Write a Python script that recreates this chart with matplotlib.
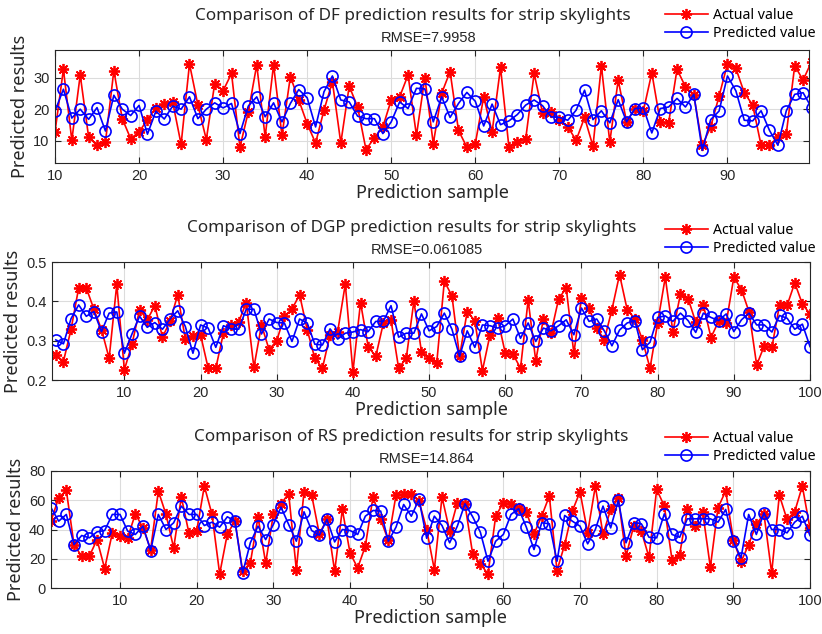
import numpy as np
import matplotlib.pyplot as plt

# values
df_x = np.arange(10, 101)
df_actual = [12.8, 32.6, 10.2, 30.8, 11.2, 8.6, 9.6, 32.2, 17.0, 10.7,
             12.8, 16.7, 20.5, 21.6, 22.3, 8.9, 34.3, 21.3, 10.4, 28.1,
             25.8, 31.3, 8.0, 19.2, 34.0, 11.2, 34.0, 11.7, 30.3, 22.9,
             15.4, 9.3, 19.7, 28.7, 9.3, 27.3, 20.7, 7.2, 11.0, 14.4,
             22.9, 23.9, 30.8, 11.7, 30.0, 9.1, 25.0, 31.9, 13.3, 8.0,
             9.1, 23.9, 12.8, 33.2, 8.0, 9.6, 10.7, 31.3, 18.8, 19.2,
             16.7, 14.4, 10.2, 17.4, 8.3, 33.7, 9.6, 29.2, 16.0, 20.2,
             19.5, 31.5, 16.0, 15.7, 32.6, 27.1, 24.4, 8.6, 14.4, 24.1,
             34.3, 32.9, 25.2, 21.3, 8.6, 8.6, 11.2, 12.3, 33.7, 29.2,
             35.0]
df_pred = [19.4, 26.3, 17.2, 20.0, 16.8, 20.5, 13.1, 24.4, 20.0, 18.0,
           21.2, 12.1, 19.4, 16.9, 21.0, 20.0, 23.9, 17.0, 20.0, 22.0,
           20.4, 21.8, 12.3, 21.0, 23.9, 17.6, 22.0, 16.0, 21.8, 26.2,
           23.6, 14.4, 25.5, 30.5, 22.9, 22.3, 17.8, 17.0, 17.0, 12.3,
           16.0, 22.3, 20.2, 26.6, 26.4, 16.0, 23.9, 17.4, 21.8, 25.3,
           22.5, 14.7, 21.6, 15.1, 16.3, 18.3, 21.3, 22.9, 21.1, 17.6,
           17.4, 16.5, 19.7, 26.0, 16.7, 19.5, 15.7, 23.0, 16.0, 20.2,
           20.4, 12.5, 20.2, 20.7, 23.4, 20.7, 24.7, 7.0, 16.7, 19.4,
           30.5, 25.8, 16.5, 16.3, 19.5, 13.3, 8.6, 19.5, 24.7, 25.2,
           20.5]

n_x = np.arange(1, 101)
dgp_actual = [0.264, 0.247, 0.329, 0.434, 0.434, 0.380, 0.328, 0.255, 0.443, 0.226,
              0.291, 0.379, 0.353, 0.389, 0.309, 0.349, 0.417, 0.304, 0.312, 0.315,
              0.230, 0.230, 0.319, 0.340, 0.347, 0.397, 0.232, 0.340, 0.277, 0.300,
              0.362, 0.380, 0.417, 0.328, 0.255, 0.230, 0.315, 0.323, 0.444, 0.221,
              0.397, 0.285, 0.260, 0.345, 0.353, 0.230, 0.255, 0.400, 0.272, 0.255,
              0.243, 0.451, 0.414, 0.260, 0.374, 0.351, 0.224, 0.315, 0.357, 0.268,
              0.266, 0.230, 0.403, 0.249, 0.355, 0.319, 0.406, 0.434, 0.268, 0.409,
              0.383, 0.332, 0.302, 0.379, 0.468, 0.379, 0.356, 0.302, 0.230, 0.345,
              0.461, 0.323, 0.419, 0.407, 0.347, 0.391, 0.308, 0.349, 0.345, 0.461,
              0.430, 0.373, 0.238, 0.287, 0.283, 0.391, 0.390, 0.447, 0.393, 0.368]
dgp_pred = [0.302, 0.292, 0.356, 0.391, 0.362, 0.374, 0.323, 0.370, 0.373, 0.268,
            0.317, 0.362, 0.334, 0.346, 0.329, 0.355, 0.376, 0.336, 0.268, 0.340,
            0.332, 0.283, 0.338, 0.330, 0.329, 0.380, 0.380, 0.317, 0.355, 0.346,
            0.345, 0.298, 0.355, 0.345, 0.291, 0.289, 0.330, 0.304, 0.319, 0.322,
            0.328, 0.323, 0.349, 0.349, 0.389, 0.309, 0.319, 0.319, 0.368, 0.325,
            0.336, 0.370, 0.329, 0.260, 0.325, 0.283, 0.340, 0.338, 0.332, 0.338,
            0.355, 0.306, 0.345, 0.298, 0.332, 0.325, 0.338, 0.353, 0.315, 0.383,
            0.349, 0.355, 0.325, 0.287, 0.327, 0.345, 0.351, 0.277, 0.296, 0.359,
            0.363, 0.349, 0.370, 0.351, 0.321, 0.370, 0.359, 0.351, 0.368, 0.323,
            0.353, 0.370, 0.340, 0.340, 0.322, 0.364, 0.357, 0.329, 0.342, 0.285]

rs_actual = [45.7, 61.7, 66.7, 29.7, 21.7, 21.7, 33.1, 13.3, 37.7, 35.4,
             34.3, 50.7, 41.1, 26.3, 66.3, 50.3, 27.4, 62.2, 37.3, 38.9,
             69.7, 50.3, 9.6, 37.0, 45.7, 11.4, 17.1, 48.5, 17.1, 50.3,
             57.6, 64.5, 12.6, 65.8, 63.5, 37.0, 46.9, 11.4, 53.7, 24.0,
             13.7, 28.6, 62.2, 46.9, 32.5, 63.5, 64.0, 64.0, 59.4, 40.0,
             12.6, 62.2, 38.9, 58.3, 57.1, 23.3, 16.5, 9.6, 49.1, 58.3,
             57.6, 54.9, 52.1, 37.0, 49.1, 62.9, 11.9, 29.7, 52.6, 65.8,
             37.7, 69.7, 36.6, 53.7, 61.5, 21.7, 42.3, 38.9, 21.0, 67.4,
             56.0, 19.4, 22.9, 53.7, 42.3, 52.1, 14.2, 54.9, 66.3, 33.1,
             17.8, 29.7, 43.9, 50.3, 10.3, 63.5, 46.9, 52.1, 69.7, 40.7]
rs_pred = [54.9, 45.7, 50.3, 29.7, 35.9, 34.3, 38.4, 39.3, 50.3, 50.3,
           38.9, 36.6, 42.3, 25.6, 50.3, 40.0, 44.6, 56.0, 50.3, 50.3,
           42.7, 45.0, 41.6, 48.7, 45.7, 10.3, 30.9, 42.3, 33.1, 43.4,
           55.3, 43.4, 32.0, 52.1, 39.3, 36.1, 46.9, 31.5, 40.0, 39.3,
           36.6, 49.1, 53.0, 52.6, 32.0, 41.6, 57.1, 49.1, 60.6, 34.0,
           49.1, 42.7, 30.9, 42.3, 57.6, 48.7, 38.2, 18.3, 32.0, 36.6,
           50.3, 54.2, 41.6, 26.3, 44.6, 43.9, 18.3, 49.6, 45.7, 42.3,
           30.2, 40.0, 56.0, 41.1, 60.0, 30.9, 44.6, 43.9, 34.7, 34.3,
           50.7, 36.6, 34.7, 47.3, 47.3, 47.3, 47.3, 45.0, 53.7, 32.0,
           20.6, 50.3, 36.6, 51.4, 40.0, 40.0, 37.7, 45.0, 49.1, 35.9]

titles = ['Comparison of DF prediction results for strip skylights',
          'Comparison of DGP prediction results for strip skylights',
          'Comparison of RS prediction results for strip skylights']
rmse_labels = ['RMSE=7.9958', 'RMSE=0.061085', 'RMSE=14.864']

W, H = 822, 634
fig = plt.figure(figsize=(W / 100, H / 100), dpi=100)


def box(l, t, r, b):
    return [l / W, 1 - b / H, (r - l) / W, (b - t) / H]


panels = [
    dict(rect=box(55, 50, 809, 163), x=df_x, a=df_actual, p=df_pred,
         xlim=(10, 99.7), ylim=(3, 38.7), yticks=[10, 20, 30],
         xticks=np.arange(10, 100, 10), leg=(665, 8)),
    dict(rect=box(52, 262, 810, 380), x=n_x, a=dgp_actual, p=dgp_pred,
         xlim=(0.5, 100), ylim=(0.2, 0.5), yticks=[0.2, 0.3, 0.4, 0.5],
         xticks=np.arange(10, 101, 10), leg=(665, 223)),
    dict(rect=box(51, 471, 810, 588), x=n_x, a=rs_actual, p=rs_pred,
         xlim=(1, 100), ylim=(0, 80), yticks=[0, 20, 40, 60, 80],
         xticks=np.arange(10, 101, 10), leg=(665, 431)),
]

title_font = 'Noto Sans'
num_font = 'Liberation Sans'
asterisk = (8, 2, 0)

for i, pnl in enumerate(panels):
    ax = fig.add_axes(pnl['rect'])
    ax.plot(pnl['x'], pnl['a'], color='#FF0000', lw=1.2, marker=asterisk,
            markersize=8, markeredgewidth=1.3, label='Actual value')
    ax.plot(pnl['x'], pnl['p'], color='#0000FF', lw=1.2, marker='o',
            markersize=8, markerfacecolor='none', markeredgewidth=1.2,
            label='Predicted value')
    ax.set_xlim(*pnl['xlim'])
    ax.set_ylim(*pnl['ylim'])
    ax.set_xticks(pnl['xticks'])
    ax.set_yticks(pnl['yticks'])
    if i == 1:
        ax.set_yticklabels([f'{v:.1f}' for v in pnl['yticks']])
    ax.grid(True, color='#dcdcdc', lw=0.8)
    ax.set_axisbelow(True)
    ax.tick_params(direction='in', top=True, right=True, length=4,
                   labelsize=10.5, colors='#262626', pad=4)
    for lab in ax.get_xticklabels() + ax.get_yticklabels():
        lab.set_fontfamily(num_font)
    for sp in ax.spines.values():
        sp.set_color('#262626')
        sp.set_linewidth(0.8)

    ax.set_xlabel('Prediction sample', fontsize=13, family=title_font,
                  color='#262626', labelpad=1)
    ax.set_ylabel('Predicted results', fontsize=13, family=title_font,
                  color='#262626', labelpad=3)
    ax.text(0.475, 1.0 + 34 / (pnl['rect'][3] * H), titles[i],
            transform=ax.transAxes, ha='center', va='center',
            fontsize=12.3, family=title_font, color='#262626')
    ax.text(0.495, 1.0 + 12 / (pnl['rect'][3] * H), rmse_labels[i],
            transform=ax.transAxes, ha='center', va='center',
            fontsize=10.5, family=num_font, color='#262626')

    lx, ly = pnl['leg']
    ax.legend(loc='upper left', bbox_to_anchor=(lx / W, 1 - ly / H),
              bbox_transform=fig.transFigure, frameon=False,
              prop={'family': title_font, 'size': 10.2},
              handlelength=3.0, handletextpad=0.4, labelspacing=0.2,
              borderpad=0, borderaxespad=0)

fig.savefig('out.png', dpi=100)
